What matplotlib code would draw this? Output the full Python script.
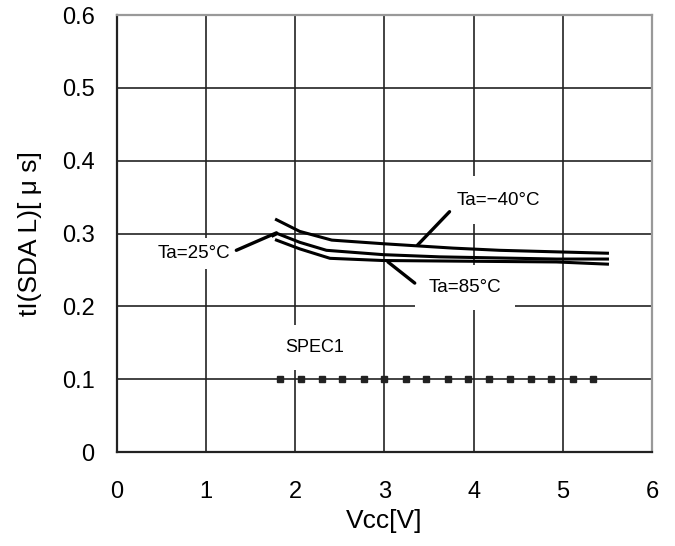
import numpy as np
import matplotlib
matplotlib.use("Agg")
import matplotlib.pyplot as plt

plt.rcParams['font.family'] = ['Liberation Sans', 'DejaVu Sans']

# curves
vcc_m40 = [1.79, 2.05, 2.41, 2.99, 3.77, 4.29, 4.89, 5.50]
t_m40 = [0.319, 0.303, 0.291, 0.286, 0.280, 0.277, 0.275, 0.273]

vcc_25 = [1.75, 1.80, 2.05, 2.35, 2.99, 3.62, 4.93, 5.50]
t_25 = [0.297, 0.300, 0.288, 0.277, 0.271, 0.268, 0.265, 0.265]

vcc_85 = [1.79, 2.05, 2.39, 2.98, 4.93, 5.50]
t_85 = [0.291, 0.279, 0.266, 0.263, 0.261, 0.258]

spec_x = [1.83, 2.07, 2.30, 2.53, 2.77, 3.00, 3.24, 3.47,
          3.71, 3.94, 4.17, 4.41, 4.64, 4.87, 5.11, 5.34]
spec_y = [0.1] * len(spec_x)

xticks = [0, 1, 2, 3, 4, 5, 6]
yticks = [0, 0.1, 0.2, 0.3, 0.4, 0.5, 0.6]
ytick_labels = ["0", "0.1", "0.2", "0.3", "0.4", "0.5", "0.6"]

fig = plt.figure(figsize=(6.75, 5.46), dpi=100)
ax = fig.add_axes([0.173, 0.172, 0.793, 0.8005])

ax.set_xlim(0, 6)
ax.set_ylim(0, 0.6)
ax.set_xticks(xticks)
ax.set_yticks(yticks)
ax.set_yticklabels(ytick_labels)
ax.tick_params(length=0, labelsize=17)
ax.tick_params(axis='y', pad=16)
ax.tick_params(axis='x', pad=21)

for v in xticks[1:-1]:
    ax.axvline(v, color='#222222', lw=1.2, zorder=1)
for v in yticks[1:-1]:
    ax.axhline(v, color='#222222', lw=1.2, zorder=1)

ax.spines['left'].set_color('#222222')
ax.spines['bottom'].set_color('#222222')
ax.spines['left'].set_linewidth(1.6)
ax.spines['bottom'].set_linewidth(1.6)
ax.spines['top'].set_color('#999999')
ax.spines['right'].set_color('#999999')
ax.spines['top'].set_linewidth(1.6)
ax.spines['right'].set_linewidth(1.6)

ax.plot(vcc_m40, t_m40, color='black', lw=2.2, zorder=3)
ax.plot(vcc_25, t_25, color='black', lw=2.2, zorder=3)
ax.plot(vcc_85, t_85, color='black', lw=2.2, zorder=3)
ax.plot(spec_x, spec_y, ls='none', marker='s', ms=4, color='#222222', zorder=3)

# labels with white boxes that blank out the grid behind them
ax.text(4.28, 0.346, "Ta=\u221240\u00b0C", fontsize=13.5, ha='center', va='center',
        bbox=dict(facecolor='white', edgecolor='none', pad=11), zorder=2)
ax.text(3.90, 0.226, "Ta=85\u00b0C", fontsize=13.5, ha='center', va='center',
        bbox=dict(facecolor='white', edgecolor='none', pad=10), zorder=2)
ax.text(0.87, 0.273, "Ta=25\u00b0C", fontsize=13.5, ha='center', va='center',
        bbox=dict(facecolor='white', edgecolor='none', pad=5), zorder=2)
ax.text(2.22, 0.144, "SPEC1", fontsize=13, ha='center', va='center',
        bbox=dict(facecolor='white', edgecolor='none', pad=10), zorder=2)

# leader lines
lead = dict(arrowstyle='-', color='black', lw=2.4, shrinkA=0, shrinkB=0)
ax.annotate("", xy=(3.37, 0.284), xytext=(3.73, 0.330), arrowprops=lead, zorder=4)
ax.annotate("", xy=(3.04, 0.261), xytext=(3.34, 0.232), arrowprops=lead, zorder=4)
ax.annotate("", xy=(1.79, 0.301), xytext=(1.34, 0.277), arrowprops=lead, zorder=4)

ax.set_xlabel("Vcc[V]", fontsize=19, labelpad=4)
ax.set_ylabel("tI(SDA L)[ \u03bc s]", fontsize=19, labelpad=14)

fig.savefig("out.png", dpi=100)
